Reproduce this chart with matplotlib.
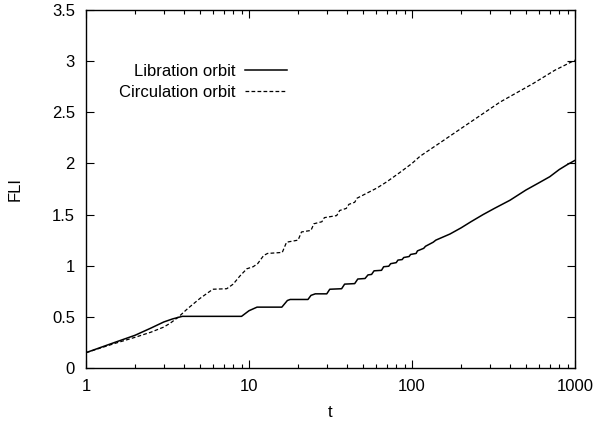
import matplotlib
matplotlib.use("Agg")
import matplotlib.pyplot as plt
from matplotlib.ticker import NullFormatter, LogLocator

plt.rcParams['font.family'] = ['Liberation Sans', 'DejaVu Sans']

lib_t = [1, 1.5, 2, 2.5, 3, 3.4, 3.9, 9.0, 10, 11.2, 15.9, 17.2, 17.9, 23, 24, 25.5,
         30, 31.3, 37, 38.6, 44.5, 46.5, 51.5, 53.7, 56.5, 58.5, 65, 67, 72, 74, 80,
         82, 87, 89, 96, 98, 106, 108, 118, 121, 135, 140, 160, 171, 200, 230, 273,
         320, 399, 500, 600, 700, 800, 900, 1000]
lib_v = [0.15, 0.25, 0.32, 0.39, 0.45, 0.48, 0.505, 0.505, 0.56, 0.595, 0.595, 0.66,
         0.67, 0.67, 0.71, 0.725, 0.725, 0.77, 0.775, 0.82, 0.825, 0.87, 0.875, 0.91,
         0.915, 0.95, 0.955, 0.99, 0.995, 1.02, 1.03, 1.055, 1.06, 1.08, 1.09, 1.11,
         1.12, 1.145, 1.17, 1.19, 1.23, 1.25, 1.29, 1.31, 1.37, 1.43, 1.50, 1.56,
         1.64, 1.74, 1.81, 1.87, 1.94, 1.99, 2.03]

cir_t = [1, 1.5, 2, 2.5, 3, 3.3, 3.7, 4.2, 5, 6, 7.3, 8, 8.8, 9.7, 10.6, 11.3, 12.3,
         13, 16, 17, 20, 21, 24, 25, 28, 29, 34.5, 36, 39.5, 41, 44.5, 46, 61, 70, 84,
         100, 112, 148, 217, 347, 552, 750, 1000]
cir_v = [0.15, 0.24, 0.30, 0.35, 0.40, 0.44, 0.50, 0.58, 0.68, 0.77, 0.775, 0.82,
         0.90, 0.97, 0.99, 1.02, 1.10, 1.12, 1.13, 1.23, 1.25, 1.33, 1.345, 1.41, 1.43,
         1.47, 1.49, 1.54, 1.56, 1.60, 1.62, 1.66, 1.76, 1.82, 1.91, 2.00, 2.07, 2.20,
         2.38, 2.60, 2.78, 2.91, 3.01]

x_ticks = [1, 10, 100, 1000]
x_labels = ['1', '10', '100', '1000']
y_ticks = [0, 0.5, 1, 1.5, 2, 2.5, 3, 3.5]
y_labels = ['0', '0.5', '1', '1.5', '2', '2.5', '3', '3.5']

fig = plt.figure(figsize=(5.97, 4.24), dpi=100)
ax = fig.add_axes([86/597, 56/424, (575-86)/597, (368-10)/424])

ax.plot(lib_t, lib_v, color='black', lw=1.1, label='Libration orbit')
ax.plot(cir_t, cir_v, color='black', lw=0.9, dashes=(3, 1.8), label='Circulation orbit')

ax.set_xscale('log')
ax.set_xlim(1, 1000)
ax.set_ylim(0, 3.5)
ax.set_xticks(x_ticks)
ax.set_xticklabels(x_labels)
ax.xaxis.set_minor_locator(LogLocator(base=10, subs=range(2, 10)))
ax.xaxis.set_minor_formatter(NullFormatter())
ax.set_yticks(y_ticks)
ax.set_yticklabels(y_labels)

ax.tick_params(which='both', direction='in', top=True, right=True, labelsize=12, width=0.8)
ax.tick_params(which='major', length=6, pad=8)
ax.tick_params(which='minor', length=3)
for s in ax.spines.values():
    s.set_linewidth(1.0)

ax.set_xlabel('t', fontsize=12, labelpad=8)
ax.set_ylabel('FLI', fontsize=12, labelpad=21)

ax.legend(loc='upper right', bbox_to_anchor=(287/597, (424-64)/424),
          bbox_transform=fig.transFigure, frameon=False, markerfirst=False,
          fontsize=12, handlelength=2.5, handletextpad=0.6, labelspacing=0.35,
          borderpad=0, borderaxespad=0)

fig.savefig('out.png', dpi=100)
